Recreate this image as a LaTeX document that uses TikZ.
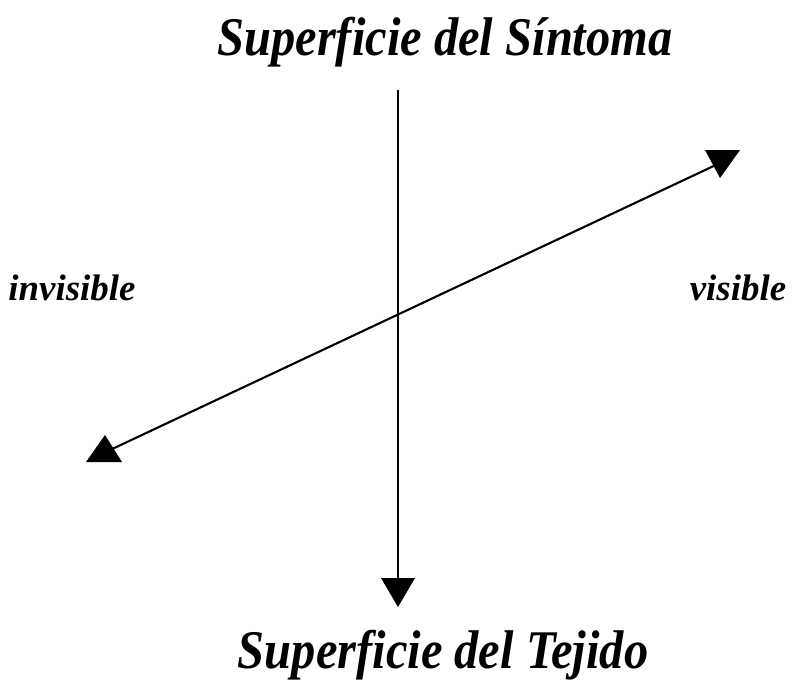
\documentclass[tikz,border=0pt]{standalone}
\usepackage{fontspec}
\setmainfont{Liberation Serif}
\newcommand{\estrecho}[1]{\scalebox{0.89}[1]{#1}}
\begin{document}
\begin{tikzpicture}[line width=0.6pt,
  titulo/.style={font=\fontsize{15.5}{18}\selectfont\bfseries\itshape},
  lado/.style={font=\fontsize{10.5}{12}\selectfont\bfseries\itshape}]
\useasboundingbox (0,0) rectangle (7.92,6.80);
\node[titulo] (sintoma) at (4.45,6.38) {\estrecho{Superficie del Síntoma}};
\node[titulo] (tejido) at (4.43,0.25) {\estrecho{Superficie del Tejido}};
\node[lado] (invisible) at (0.72,3.92) {invisible};
\node[lado] (visible) at (7.38,3.92) {visible};
\coordinate (arriba) at (3.98,5.90);
\coordinate (abajo) at (3.98,0.85);
\coordinate (izq) at (1.10,2.30);
\coordinate (der) at (7.20,5.17);
\draw (arriba) -- (abajo);
\draw (izq) -- (der);
% puntas de flecha
\fill (3.81,1.02) -- (4.15,1.02) -- (3.98,0.73) -- cycle;
\fill (0.86,2.18) -- (1.22,2.18) -- (1.05,2.45) -- cycle;
\fill (7.05,5.30) -- (7.40,5.30) -- (7.20,5.02) -- cycle;
\end{tikzpicture}
\end{document}
